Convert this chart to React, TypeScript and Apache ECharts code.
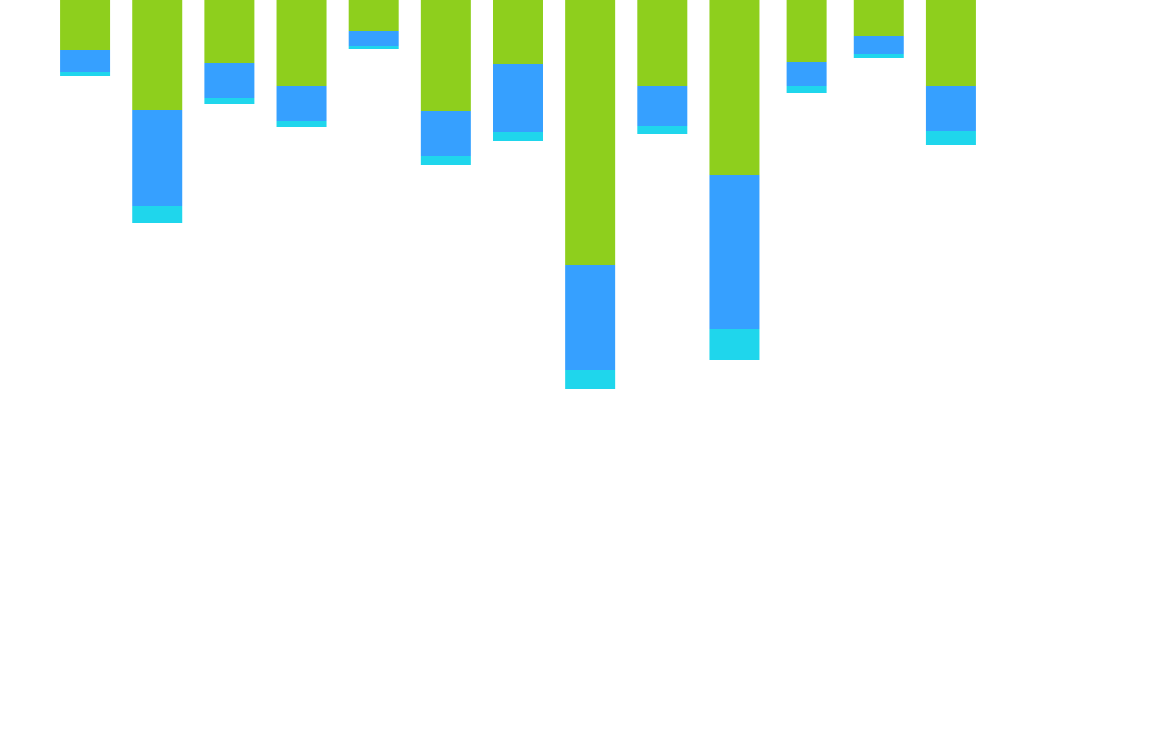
import React, { useEffect, useRef } from "react";
import * as echarts from "echarts";

const categories = ["1", "2", "3", "4", "5", "6", "7", "8", "9", "10", "11", "12", "13"];
const greenValues = [50, 110, 63, 86, 31, 111, 64, 265, 86, 175, 62, 36, 86];
const blueValues = [22, 96, 35, 35, 15, 45, 68, 105, 40, 154, 24, 18, 45];
const cyanValues = [4, 17, 6, 6, 3, 9, 9, 19, 8, 31, 7, 4, 14];
const seriesNames = ["A", "B", "C"];
const narrowIndex = 10;

const COLORS = ["#8ECF1D", "#36A0FF", "#1FD6EC"];

export default function App() {
  const ref = useRef<HTMLDivElement>(null);
  useEffect(() => {
    if (!ref.current) return;
    const chart = echarts.init(ref.current, null, { renderer: "svg" });
    const all = [greenValues, blueValues, cyanValues];
    const mainSeries = all.map((vals, i) => ({
      name: seriesNames[i],
      type: "bar",
      stack: "main",
      xAxisIndex: 0,
      barWidth: 50,
      itemStyle: { color: COLORS[i] },
      data: vals.map((v, j) => (j === narrowIndex ? null : v)),
    }));
    const narrowSeries = all.map((vals, i) => ({
      name: seriesNames[i],
      type: "bar",
      stack: "narrow",
      xAxisIndex: 1,
      barWidth: 40,
      itemStyle: { color: COLORS[i] },
      data: vals.map((v, j) => (j === narrowIndex ? v : null)),
    }));
    const hiddenCat = {
      type: "category",
      data: categories,
      show: false,
      axisLine: { show: false },
      axisTick: { show: false },
      axisLabel: { show: false },
    };
    chart.setOption({
      animation: false,
      grid: { left: 49, right: 187, top: 0, height: 700 },
      xAxis: [{ ...hiddenCat }, { ...hiddenCat }],
      yAxis: {
        type: "value",
        inverse: true,
        min: 0,
        max: 700,
        show: false,
        splitLine: { show: false },
      },
      series: [...mainSeries, ...narrowSeries],
    });
    return () => chart.dispose();
  }, []);
  return (
    <div
      ref={ref}
      style={{ position: "absolute", left: 0, top: 0, width: 1174, height: 748, background: "#fff" }}
    />
  );
}
